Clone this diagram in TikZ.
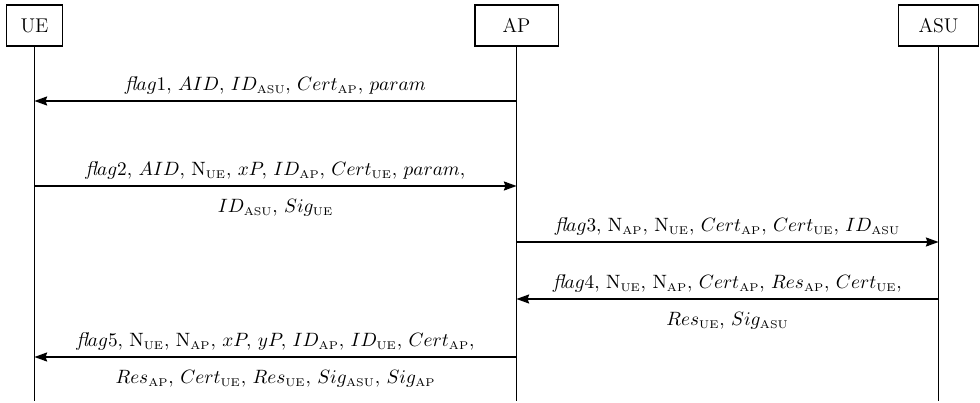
\documentclass[tikz,border=0pt]{standalone}
\usetikzlibrary{arrows.meta}
% small upright subscript for entity names
\newcommand{\ent}[1]{_{\mbox{\fontsize{6.4}{7}\selectfont\rmfamily #1}}}
% "flag" with the fl ligature, then math italic
\newcommand{\fl}[1]{\mbox{\itshape fl}ag#1}
% list separator: comma plus a thin space
\newcommand{\cs}{,\,}
\begin{document}
\begin{tikzpicture}[x=0.5682pt,y=-0.5682pt,
  font=\fontsize{11.3}{13.6}\selectfont,
  entity/.style={draw,line width=0.6pt,minimum height=23.3pt,inner sep=0pt},
  lifeline/.style={line width=0.6pt},
  msg/.style={line width=0.6pt,-{Stealth[length=7.2pt,width=5.2pt,inset=0.9pt]}},
  up/.style={above=0pt},
  down/.style={below=4pt}]
\useasboundingbox (0,0) rectangle (980,403);

% participants
\node[entity,minimum width=31.8pt] (ue)  at (34.5,25.5) {UE};
\node[entity,minimum width=47.2pt] (ap)  at (516.5,25.5) {AP};
\node[entity,minimum width=45.5pt] (asu) at (938.5,25.5) {ASU};

% lifelines
\coordinate (bot) at (0,401);
\coordinate (ueEnd)  at (ue.south |- bot);
\coordinate (apEnd)  at (ap.south |- bot);
\coordinate (asuEnd) at (asu.south |- bot);
\draw[lifeline] (ue.south) -- (ueEnd);
\draw[lifeline] (ap.south) -- (apEnd);
\draw[lifeline] (asu.south) -- (asuEnd);

% message rows
\coordinate (r1) at (0,101);
\coordinate (r2) at (0,186);
\coordinate (r3) at (0,242);
\coordinate (r4) at (0,299);
\coordinate (r5) at (0,357);

\draw[msg] (ap |- r1) -- node[up]
  {$\fl{1}\cs AID\cs ID\ent{ASU}\cs Cert\ent{AP}\cs param$}
  (ue |- r1);

\draw[msg] (ue |- r2) -- node[up]
  {$\fl{2}\cs AID\cs \mathrm{N}\ent{UE}\cs xP\cs ID\ent{AP}\cs Cert\ent{UE}\cs param,$}
  node[down] {$ID\ent{ASU}\cs Sig\ent{UE}$}
  (ap |- r2);

\draw[msg] (ap |- r3) -- node[up]
  {$\fl{3}\cs \mathrm{N}\ent{AP}\cs \mathrm{N}\ent{UE}\cs Cert\ent{AP}\cs Cert\ent{UE}\cs ID\ent{ASU}$}
  (asu |- r3);

\draw[msg] (asu |- r4) -- node[up]
  {$\fl{4}\cs \mathrm{N}\ent{UE}\cs \mathrm{N}\ent{AP}\cs Cert\ent{AP}\cs Res\ent{AP}\cs Cert\ent{UE},$}
  node[down] {$Res\ent{UE}\cs Sig\ent{ASU}$}
  (ap |- r4);

\draw[msg] (ap |- r5) -- node[up]
  {$\fl{5}\cs \mathrm{N}\ent{UE}\cs \mathrm{N}\ent{AP}\cs xP\cs yP\cs ID\ent{AP}\cs ID\ent{UE}\cs Cert\ent{AP},$}
  node[down] {$Res\ent{AP}\cs Cert\ent{UE}\cs Res\ent{UE}\cs Sig\ent{ASU}\cs Sig\ent{AP}$}
  (ue |- r5);
\end{tikzpicture}
\end{document}
